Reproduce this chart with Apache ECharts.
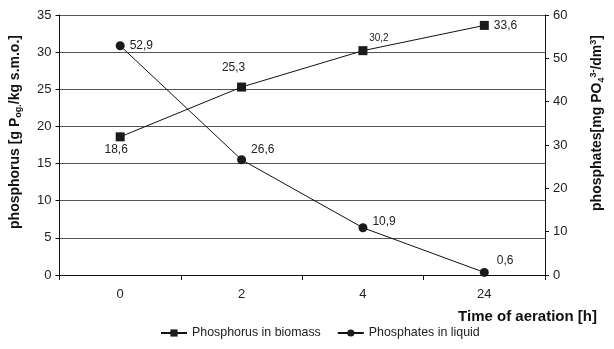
<!DOCTYPE html>
<html>
<head>
<meta charset="utf-8">
<script src="https://cdn.jsdelivr.net/npm/echarts@6/dist/echarts.min.js"></script>
<style>
  html, body { margin: 0; padding: 0; background: #fff; }
  #chart { width: 614px; height: 349px; }
</style>
</head>
<body>
<div id="chart"></div>
<script>
// czas napowietrzania [h]
let timeLabels = ['0', '2', '4', '24'];
// fosfor w biomasie [g P/kg s.m.o.]
let phosphorusBiomass = [18.6, 25.3, 30.2, 33.6];
// fosforany w cieczy [mg PO4/dm3]
let phosphatesLiquid = [52.9, 26.6, 10.9, 0.6];

let font = 'Arial, "Liberation Sans", sans-serif';

// where each value label sits next to its point
let biomassLabelPos = [
  { position: 'bottom', distance: 2, offset: [-4, 0] },
  { position: 'top', offset: [-8, -4] },
  { position: 'top', offset: [16, 2], fontSize: 10 },
  { position: 'right' }
];
let liquidLabelPos = [
  { position: 'right' },
  { position: 'right', offset: [0, -10] },
  { position: 'right', offset: [0, -6] },
  { position: 'right', offset: [3, -12] }
];

function withLabels(values, pos) {
  return values.map(function (v, i) {
    return { value: v, label: Object.assign({ show: true }, pos[i]) };
  });
}

function comma(p) {
  return String(p.value).replace('.', ',');
}

let option = {
  animation: false,
  backgroundColor: '#fff',
  textStyle: { fontFamily: font },
  grid: { left: 57, right: 57, top: 15, bottom: 74 },
  legend: {
    bottom: 5,
    left: 155,
    itemWidth: 26,
    itemHeight: 9,
    itemGap: 16,
    textStyle: { fontSize: 12.4, color: '#222', fontFamily: font },
    data: ['Phosphorus in biomass', 'Phosphates in liquid']
  },
  xAxis: {
    type: 'category',
    data: timeLabels,
    boundaryGap: true,
    name: 'Time of aeration [h]',
    nameLocation: 'end',
    nameGap: 52,
    nameTextStyle: {
      align: 'right', verticalAlign: 'top', padding: [34, 0, 0, 0],
      fontSize: 15, fontWeight: 'bold', color: '#111', fontFamily: font
    },
    axisLine: { lineStyle: { color: '#111', width: 1 } },
    axisTick: { show: true, length: 5, lineStyle: { color: '#111' } },
    axisLabel: { fontSize: 13, color: '#222', margin: 13 },
    splitLine: { show: false }
  },
  yAxis: [
    {
      type: 'value',
      min: 0, max: 35, interval: 5,
      name: 'phosphorus [g P{sub|og.}/kg s.m.o.]',
      nameLocation: 'middle',
      nameGap: 36,
      nameRotate: 90,
      nameTextStyle: {
        fontSize: 14, fontWeight: 'bold', color: '#111', fontFamily: font,
        padding: [0, 0, 0, 26],
        rich: { sub: { fontSize: 9, fontWeight: 'bold', color: '#111', padding: [8, 0, 0, 0] } }
      },
      axisLine: { show: true, lineStyle: { color: '#111' } },
      axisTick: { show: true, length: 4, lineStyle: { color: '#111' } },
      axisLabel: { fontSize: 13, color: '#222', margin: 8 },
      splitLine: { show: true, lineStyle: { color: '#555', width: 1 } }
    },
    {
      type: 'value',
      min: 0, max: 60, interval: 10,
      position: 'right',
      name: 'phosphates[mg PO{sub|4}{sup|3-}/dm{sup|3}]',
      nameLocation: 'middle',
      nameGap: 44,
      nameRotate: 90,
      nameTextStyle: {
        fontSize: 14, fontWeight: 'bold', color: '#111', fontFamily: font,
        padding: [0, 0, 0, 44],
        rich: {
          sub: { fontSize: 9, fontWeight: 'bold', color: '#111', padding: [8, 0, 0, 0] },
          sup: { fontSize: 9, fontWeight: 'bold', color: '#111', padding: [0, 0, 8, 0] }
        }
      },
      axisLine: { show: true, lineStyle: { color: '#111' } },
      axisTick: { show: true, length: 4, lineStyle: { color: '#111' } },
      axisLabel: { fontSize: 13, color: '#222', margin: 8 },
      splitLine: { show: false }
    }
  ],
  series: [
    {
      name: 'Phosphorus in biomass',
      type: 'line',
      yAxisIndex: 0,
      data: withLabels(phosphorusBiomass, biomassLabelPos),
      symbol: 'rect',
      symbolSize: 9,
      lineStyle: { color: '#111', width: 1 },
      itemStyle: { color: '#1a1a1a' },
      label: { fontSize: 12, color: '#222', formatter: comma }
    },
    {
      name: 'Phosphates in liquid',
      type: 'line',
      yAxisIndex: 1,
      data: withLabels(phosphatesLiquid, liquidLabelPos),
      symbol: 'circle',
      symbolSize: 9,
      lineStyle: { color: '#111', width: 1 },
      itemStyle: { color: '#1a1a1a' },
      label: { fontSize: 12, color: '#222', formatter: comma }
    }
  ]
};

var chartDom = document.getElementById('chart');
var chart = echarts.init(chartDom);
chart.setOption(option);
</script>
</body>
</html>
